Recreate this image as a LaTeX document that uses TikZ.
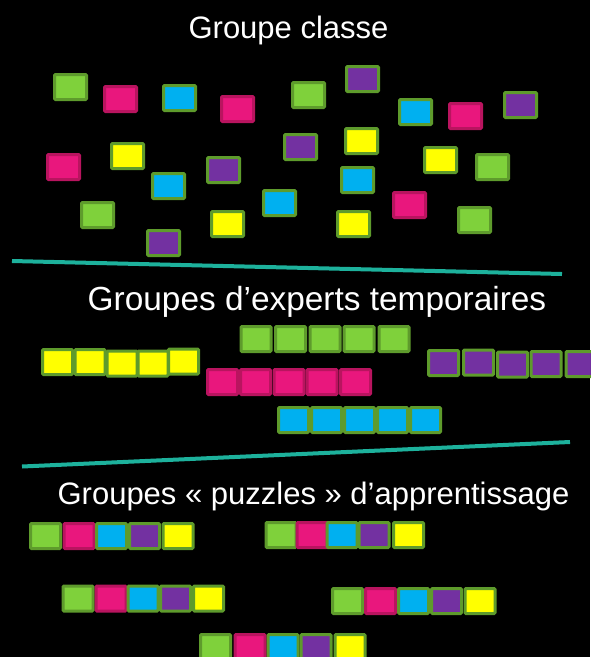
\documentclass[tikz,border=0pt]{standalone}
\usepackage{fontspec}
\setmainfont{Liberation Sans}
\usetikzlibrary{positioning}

\definecolor{fillgreen}{HTML}{7FD13B}
\definecolor{fillpink}{HTML}{E9177D}
\definecolor{fillcyan}{HTML}{00B0F0}
\definecolor{fillpurple}{HTML}{7331A1}
\definecolor{fillyellow}{HTML}{FFFF00}
\definecolor{edgegreen}{HTML}{5E9B2C}
\definecolor{edgepink}{HTML}{B9145F}
\definecolor{divider}{HTML}{1DB19C}

\tikzset{
  tile/.style={draw=edgegreen, line width=3pt, rounded corners=1pt,
    minimum width=32pt, minimum height=25pt, inner sep=0pt},
  gr/.style={tile, fill=fillgreen},
  pk/.style={tile, fill=fillpink, draw=edgepink},
  cy/.style={tile, fill=fillcyan},
  pu/.style={tile, fill=fillpurple},
  ye/.style={tile, fill=fillyellow},
  narrow/.style={minimum width=30pt},
  heading/.style={text=white, font=\fontsize{31}{36}\selectfont, anchor=base, inner sep=0pt}
}

\begin{document}
\begin{tikzpicture}[x=1pt, y=-1pt]
\fill[black] (0,0) rectangle (590,657);
\useasboundingbox (0,0) rectangle (590,657);

% whole class
\node[heading] (classe) at (288.5,38) {Groupe classe};
\foreach \x/\y/\c [count=\i] in {70.5/87/gr, 120.5/99/pk, 179.5/98/cy, 237.5/109/pk,
    308.5/95/gr, 362.5/79/pu, 415.5/112/cy, 465.5/116/pk, 520.5/105/pu,
    63.5/167/pk, 127.5/156/ye, 168.5/186/cy, 223.5/170/pu, 300.5/147/pu,
    361.5/141/ye, 440.5/160/ye, 492.5/167/gr, 357.5/180/cy, 97.5/215/gr,
    227.5/224/ye, 163.5/243/pu, 279.5/203/cy, 409.5/205/pk, 353.5/224/ye,
    474.5/220/gr}
  \node[\c] (cl\i) at (\x,\y) {};

\coordinate (d1a) at (12,261);
\coordinate (d1b) at (562,274);
\draw[divider, line width=4pt] (d1a) -- (d1b);

% expert groups
\node[heading, font=\fontsize{33.4}{38}\selectfont] (experts) at (317,310) {Groupes d’experts temporaires};
\foreach \x/\y [count=\i] in {57.5/362, 90/362, 122/363.5, 153/363.5, 183.5/361.5}
  \node[ye, narrow] (ey\i) at (\x,\y) {};
\foreach \x [count=\i] in {256, 290.5, 325, 359, 394}
  \node[gr, narrow] (eg\i) at (\x,339) {};
\foreach \x [count=\i] in {222.5, 255.5, 289, 322, 355.5}
  \node[pk, narrow] (ep\i) at (\x,382) {};
\foreach \x [count=\i] in {293.5, 326.5, 359.5, 392.5, 425.5}
  \node[cy, narrow] (ec\i) at (\x,420) {};
\foreach \x/\y [count=\i] in {443.5/363, 478.5/362.5, 512.5/364.5, 546/364, 581/364}
  \node[pu, narrow] (eu\i) at (\x,\y) {};

\coordinate (d2a) at (22,466.5);
\coordinate (d2b) at (570,442);
\draw[divider, line width=4pt] (d2a) -- (d2b);

% jigsaw groups
\node[heading] (puzzles) at (313.5,504) {Groupes « puzzles » d’apprentissage};
\foreach \y/\xa/\xb/\xc/\xd/\xe [count=\r] in {
    536/45.5/79/111.5/144.5/178,
    535/281/312/342/374/408.5,
    598.5/78/111/143/175.5/208.5,
    601/347.5/380.5/413.5/446.5/480,
    647/215.5/250/283/316/350}
{
  \node[gr, narrow] (p\r g) at (\xa,\y) {};
  \node[pk, narrow] (p\r p) at (\xb,\y) {};
  \node[cy, narrow] (p\r c) at (\xc,\y) {};
  \node[pu, narrow] (p\r u) at (\xd,\y) {};
  \node[ye, narrow] (p\r y) at (\xe,\y) {};
}
\end{tikzpicture}
\end{document}
